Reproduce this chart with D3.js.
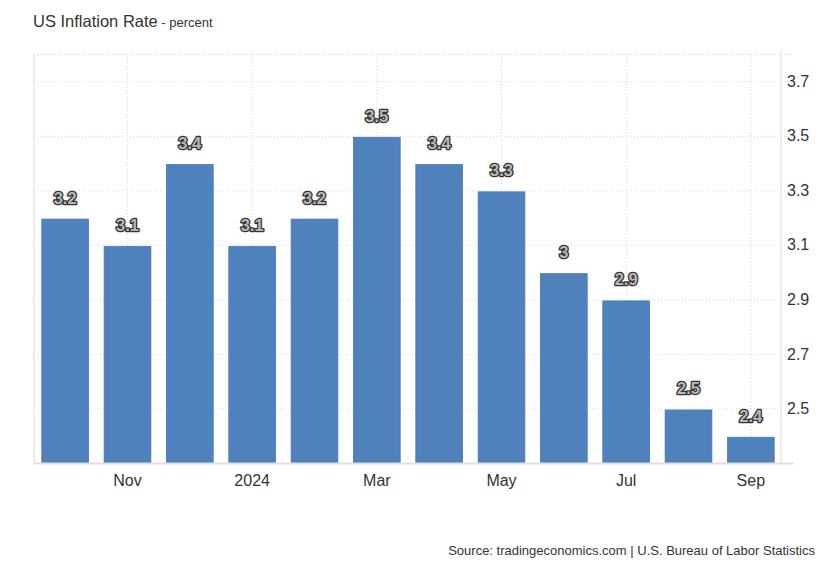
<!DOCTYPE html>
<html>
<head>
<meta charset="utf-8">
<script src="https://cdn.jsdelivr.net/npm/d3@7"></script>
<style>
  body { margin: 0; background: #fff; }
  text { font-family: "Liberation Sans", Arial, sans-serif; }
</style>
</head>
<body>
<div id="chart"></div>
<script>
// months shown as bars, Oct 2023 .. Sep 2024
var months = ["Oct", "Nov", "Dec", "2024", "Feb", "Mar", "Apr", "May", "Jun", "Jul", "Aug", "Sep"];
var rates = [3.2, 3.1, 3.4, 3.1, 3.2, 3.5, 3.4, 3.3, 3.0, 2.9, 2.5, 2.4];
var xTickLabels = ["Nov", "2024", "Mar", "May", "Jul", "Sep"];
var yTicks = [2.5, 2.7, 2.9, 3.1, 3.3, 3.5, 3.7];

var width = 830, height = 567;
var svg = d3.select("#chart").append("svg")
    .attr("width", width)
    .attr("height", height);

var plotLeft = 34, plotRight = 781, plotTop = 54, plotBottom = 463;
var barInset = 1.5; // bars sit a hair under their gridline in the original

var x = d3.scaleBand()
    .domain(months)
    .range([plotLeft, plotRight + 1])
    .paddingInner(0.25)
    .paddingOuter(0.125);

var y = d3.scaleLinear()
    .domain([2.3, 3.8])
    .range([plotBottom, plotTop]);

// horizontal grid (dotted), runs a bit past the right axis as the tick
var yGrid = d3.axisRight(y)
    .tickValues(yTicks.concat([3.8]))
    .tickSize(plotRight + 12 - plotLeft)
    .tickFormat("");
svg.append("g")
    .attr("transform", "translate(" + plotLeft + ",0)")
    .call(yGrid)
    .call(function (g) { g.select(".domain").remove(); })
    .selectAll("line")
    .attr("stroke", "#d8d8d8")
    .attr("stroke-dasharray", "1,2");

// vertical grid (dotted)
svg.append("g").selectAll("line")
    .data(xTickLabels)
    .enter().append("line")
    .attr("x1", function (d) { return x(d) + x.bandwidth() / 2; })
    .attr("x2", function (d) { return x(d) + x.bandwidth() / 2; })
    .attr("y1", plotTop)
    .attr("y2", plotBottom)
    .attr("stroke", "#d8d8d8")
    .attr("stroke-dasharray", "1,2");

// frame lines
svg.append("line")
    .attr("x1", plotLeft).attr("x2", plotLeft)
    .attr("y1", plotTop).attr("y2", plotBottom)
    .attr("stroke", "#e6e6e6").attr("stroke-width", 1.5);
svg.append("line")
    .attr("x1", plotRight).attr("x2", plotRight)
    .attr("y1", plotTop - 4).attr("y2", plotBottom)
    .attr("stroke", "#e6e6e6").attr("stroke-width", 1.5);

// bars
svg.append("g").selectAll("rect")
    .data(rates)
    .enter().append("rect")
    .attr("x", function (d, i) { return x(months[i]); })
    .attr("y", function (d) { return y(d) + barInset; })
    .attr("width", x.bandwidth())
    .attr("height", function (d) { return plotBottom - y(d) - barInset; })
    .attr("fill", "#4f81bd")
    .attr("stroke", "#4a79b4")
    .attr("stroke-width", 0.8);

// bottom axis
var xAxis = d3.axisBottom(x)
    .tickValues(xTickLabels)
    .tickSize(0)
    .tickPadding(10);
var gX = svg.append("g")
    .attr("transform", "translate(0," + plotBottom + ")")
    .call(xAxis);
gX.select(".domain").remove();
gX.selectAll("text")
    .attr("font-size", 16)
    .attr("fill", "#333")
    .attr("dy", "0.8em");
svg.append("line")
    .attr("x1", plotLeft).attr("x2", plotRight + 13)
    .attr("y1", plotBottom + 0.5).attr("y2", plotBottom + 0.5)
    .attr("stroke", "#e0e0e0").attr("stroke-width", 2);

// right axis labels
var yAxis = d3.axisRight(y)
    .tickValues(yTicks)
    .tickSize(0)
    .tickPadding(6)
    .tickFormat(d3.format(".1f"));
var gY = svg.append("g")
    .attr("transform", "translate(" + plotRight + ",0)")
    .call(yAxis);
gY.select(".domain").remove();
gY.selectAll("text")
    .attr("font-size", 16)
    .attr("fill", "#333");

// value labels
svg.append("g").selectAll("text")
    .data(rates)
    .enter().append("text")
    .attr("x", function (d, i) { return x(months[i]) + x.bandwidth() / 2; })
    .attr("y", function (d) { return y(d) - 14; })
    .attr("text-anchor", "middle")
    .attr("font-size", 16.5)
    .attr("font-weight", "bold")
    .attr("fill", "#b8b8b8")
    .attr("stroke", "#333")
    .attr("stroke-width", 2.6)
    .attr("stroke-linejoin", "round")
    .attr("paint-order", "stroke")
    .text(function (d) { return d3.format("")(d); });

// title
var title = svg.append("text")
    .attr("x", 33)
    .attr("y", 27)
    .attr("fill", "#333");
title.append("tspan").attr("font-size", 16.5).text("US Inflation Rate");
title.append("tspan").attr("font-size", 13).text(" - percent");

// source
svg.append("text")
    .attr("x", 815)
    .attr("y", 555)
    .attr("text-anchor", "end")
    .attr("font-size", 13)
    .attr("fill", "#333")
    .text("Source: tradingeconomics.com | U.S. Bureau of Labor Statistics");
</script>
</body>
</html>
